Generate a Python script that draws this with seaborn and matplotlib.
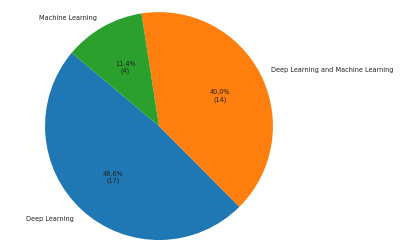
import matplotlib
matplotlib.use("Agg")
import matplotlib.pyplot as plt
import seaborn as sns

labels = ["Deep Learning", "Deep Learning and Machine Learning", "Machine Learning"]
counts = [17, 14, 4]

sns.set_style("white")
plt.rcParams['font.family'] = ['DejaVu Sans']
colors = sns.color_palette("tab10", 3)

total = sum(counts)

def fmt(pct):
    n = int(round(pct * total / 100.0))
    return '{:.1f}%\n({})'.format(pct, n)

fig = plt.figure(figsize=(4.06, 2.51), dpi=100)
# square axes placed so the pie sits where it does in the reference
ax = fig.add_axes([0.0406, -0.0737, 0.702, 1.135])
wedges, texts, autotexts = ax.pie(counts, labels=labels, colors=colors,
                                  autopct=fmt, startangle=140,
                                  wedgeprops={'linewidth': 0},
                                  textprops={'fontsize': 4.7, 'color': '#222222'})
ax.set_xlim(-1.25, 1.25)
ax.set_ylim(-1.25, 1.25)
ax.set_aspect('equal')
ax.axis('off')

fig.savefig('out.png', dpi=100)
